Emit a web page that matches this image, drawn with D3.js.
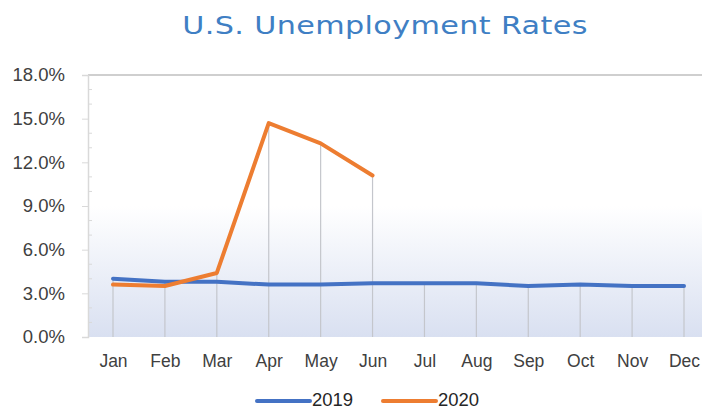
<!DOCTYPE html>
<html>
<head>
<meta charset="utf-8">
<script src="https://cdn.jsdelivr.net/npm/d3@7"></script>
<style>
  html, body { margin: 0; padding: 0; background: #ffffff; }
  svg { display: block; }
</style>
</head>
<body>
<svg id="chart" width="702" height="410"></svg>
<script>
// Monthly U.S. unemployment rates (%)
const months = ["Jan", "Feb", "Mar", "Apr", "May", "Jun", "Jul", "Aug", "Sep", "Oct", "Nov", "Dec"];
const rates2019 = [4.0, 3.8, 3.8, 3.6, 3.6, 3.7, 3.7, 3.7, 3.5, 3.6, 3.5, 3.5];
const rates2020 = [3.6, 3.5, 4.4, 14.7, 13.3, 11.1];
const yTicks = [0, 3, 6, 9, 12, 15, 18];
const seriesNames = ["2019", "2020"];
const seriesColors = ["#4472c4", "#ed7d31"];

const svg = d3.select("#chart");
const plot = { left: 88, right: 702, top: 75, bottom: 337 };

const x = d3.scalePoint().domain(months).range([113, 684]);
const y = d3.scaleLinear().domain([0, 18]).range([plot.bottom, plot.top]);

// Title (slightly widened glyphs)
svg.append("text")
  .attr("transform", "translate(385,34) scale(1.21,1)")
  .attr("text-anchor", "middle")
  .attr("font-family", "'DejaVu Sans', Verdana, sans-serif")
  .attr("font-size", 25)
  .attr("letter-spacing", 0.3)
  .attr("fill", "#3f7fc4")
  .text("U.S. Unemployment Rates");

// Plot background gradient
const defs = svg.append("defs");
const grad = defs.append("linearGradient")
  .attr("id", "bg").attr("x1", 0).attr("y1", 0).attr("x2", 0).attr("y2", 1);
grad.append("stop").attr("offset", "0%").attr("stop-color", "#ffffff");
grad.append("stop").attr("offset", "50%").attr("stop-color", "#ffffff");
grad.append("stop").attr("offset", "100%").attr("stop-color", "#d9e0f1");

svg.append("rect")
  .attr("x", plot.left).attr("y", plot.top)
  .attr("width", plot.right - plot.left)
  .attr("height", plot.bottom - plot.top)
  .attr("fill", "url(#bg)");

// Top border
svg.append("line")
  .attr("x1", plot.left).attr("x2", plot.right)
  .attr("y1", y(18)).attr("y2", y(18))
  .attr("stroke", "#cfcfcf").attr("stroke-width", 2);

// Y axis with major ticks outside and minor ticks inside
const yAxis = svg.append("g").attr("transform", `translate(${plot.left},0)`)
  .call(d3.axisLeft(y).tickValues(yTicks).tickSize(6).tickFormat(d => d.toFixed(1) + "%"));
yAxis.select(".domain").attr("stroke", "#d9d9d9").attr("stroke-width", 1.5);
yAxis.selectAll(".tick line").attr("stroke", "#d9d9d9");
yAxis.selectAll(".tick text")
  .attr("x", -23)
  .attr("font-family", "'Liberation Sans', Arial, sans-serif")
  .attr("font-size", 18.5)
  .attr("fill", "#404040");
const minor = d3.range(0, 19).filter(v => v % 3 !== 0);
svg.append("g").selectAll("line").data(minor).join("line")
  .attr("x1", plot.left).attr("x2", plot.left + 4)
  .attr("y1", d => y(d)).attr("y2", d => y(d))
  .attr("stroke", "#d9d9d9").attr("stroke-width", 1);

// Drop lines from the highest point of each month to the axis
svg.append("g").selectAll("line").data(months).join("line")
  .attr("x1", d => x(d)).attr("x2", d => x(d))
  .attr("y1", (d, i) => y(Math.max(rates2019[i], rates2020[i] ?? -Infinity)))
  .attr("y2", y(0))
  .attr("stroke", "#c4c6cc").attr("stroke-width", 1.2);

// X labels
svg.append("g").attr("transform", `translate(0,${plot.bottom})`)
  .call(d3.axisBottom(x).tickSize(0).tickPadding(0))
  .call(g => g.select(".domain").remove())
  .selectAll("text")
  .attr("dy", 0).attr("y", 30)
  .attr("font-family", "'Liberation Sans', Arial, sans-serif")
  .attr("font-size", 17.5)
  .attr("fill", "#404040");

// Series lines
const line = d3.line()
  .x((d, i) => x(months[i]))
  .y(d => y(d));
[rates2019, rates2020].forEach((vals, k) => {
  svg.append("path")
    .datum(vals)
    .attr("d", line)
    .attr("fill", "none")
    .attr("stroke", seriesColors[k])
    .attr("stroke-width", 4)
    .attr("stroke-linejoin", "round")
    .attr("stroke-linecap", "round");
});

// Legend
const legendX = [257, 383];
seriesNames.forEach((name, k) => {
  const g = svg.append("g").attr("transform", `translate(${legendX[k]},401)`);
  g.append("line")
    .attr("x1", 0).attr("x2", 53).attr("y1", 0).attr("y2", 0)
    .attr("stroke", seriesColors[k]).attr("stroke-width", 4)
    .attr("stroke-linecap", "round");
  g.append("text")
    .attr("x", 55).attr("y", 5)
    .attr("font-family", "'Liberation Sans', Arial, sans-serif")
    .attr("font-size", 18.5)
    .attr("fill", "#262626")
    .text(name);
});
</script>
</body>
</html>
